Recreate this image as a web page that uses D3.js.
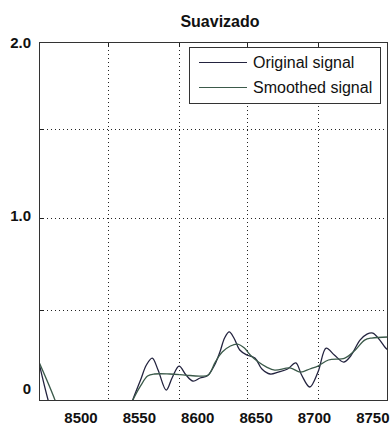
<!DOCTYPE html>
<html>
<head>
<meta charset="utf-8">
<script src="https://cdn.jsdelivr.net/npm/d3@7"></script>
<style>
  body { margin: 0; background: #fff; }
  text { font-family: "Liberation Sans Narrow", "Liberation Sans", Arial, sans-serif; }
</style>
</head>
<body>
<svg id="vis" width="390" height="427"></svg>
<script>
// Datos
const origX = [8464, 8472, 8482, 8512, 8533, 8544, 8551, 8556, 8561, 8566, 8573, 8578, 8584, 8590, 8596, 8602, 8608, 8614, 8619, 8623, 8627, 8631, 8636, 8642, 8649, 8655, 8662, 8669, 8677, 8684, 8689, 8696, 8703, 8710, 8717, 8725, 8731, 8739, 8745, 8750, 8756, 8761, 8763];
const origY = [0.145, -0.075, -0.30, -0.42, -0.30, -0.075, 0.046, 0.133, 0.173, 0.104, -0.012, 0.058, 0.127, 0.075, 0.040, 0.058, 0.069, 0.127, 0.208, 0.289, 0.324, 0.289, 0.220, 0.191, 0.173, 0.110, 0.081, 0.092, 0.110, 0.145, 0.075, 0.006, 0.092, 0.231, 0.191, 0.150, 0.185, 0.277, 0.312, 0.318, 0.277, 0.231, 0.220];
const smoothX = [8464, 8478, 8486, 8516, 8533, 8544, 8551, 8557, 8563, 8576, 8589, 8602, 8609, 8615, 8621, 8628, 8634, 8640, 8645, 8652, 8659, 8666, 8679, 8688, 8696, 8703, 8712, 8726, 8735, 8743, 8749, 8763];
const smoothY = [0.150, -0.075, -0.24, -0.36, -0.24, -0.075, 0.012, 0.069, 0.081, 0.081, 0.075, 0.069, 0.075, 0.150, 0.208, 0.243, 0.254, 0.231, 0.191, 0.150, 0.121, 0.104, 0.116, 0.092, 0.110, 0.127, 0.162, 0.173, 0.220, 0.277, 0.289, 0.295];
const xTicks = [8500, 8550, 8600, 8650, 8700, 8750];
const yTicks = [0, 1, 2];
const xGrid = [8523, 8584, 8642, 8703];
const yGrid = [0.45, 0.98, 1.5];
const seriesNames = ["Original signal", "Smoothed signal"];
const colors = ["#23233f", "#3b5a4a"];

const SVG = d3.select("#vis");
const pLeft = 39, pRight = 388, pTop = 42, pBottom = 401;

const x = d3.scaleLinear().domain([8464, 8763]).range([pLeft, pRight]);
const y = d3.scaleLinear().domain([-0.075, 2.0]).range([pBottom, pTop]);

// Titulo
SVG.append("text")
  .attr("x", 220).attr("y", 27)
  .attr("text-anchor", "middle")
  .attr("font-size", 16).attr("font-weight", "bold")
  .attr("fill", "#111")
  .text("Suavizado");

// Grilla punteada
SVG.selectAll("line.gx").data(xGrid).join("line")
  .attr("class", "gx")
  .attr("x1", d => Math.round(x(d)) + 0.5).attr("x2", d => Math.round(x(d)) + 0.5)
  .attr("y1", pTop).attr("y2", pBottom)
  .attr("stroke", "#222").attr("stroke-dasharray", "1,3");
SVG.selectAll("line.gy").data(yGrid).join("line")
  .attr("class", "gy")
  .attr("y1", d => Math.round(y(d)) + 0.5).attr("y2", d => Math.round(y(d)) + 0.5)
  .attr("x1", pLeft).attr("x2", pRight)
  .attr("stroke", "#222").attr("stroke-dasharray", "1,3");

// Marcas cortas en el marco
SVG.selectAll("line.tx").data(xGrid).join("line")
  .attr("class", "tx")
  .attr("x1", d => Math.round(x(d)) + 0.5).attr("x2", d => Math.round(x(d)) + 0.5)
  .attr("y1", pTop).attr("y2", pTop + 4)
  .attr("stroke", "#222");
SVG.selectAll("line.ty").data(yGrid).join("line")
  .attr("class", "ty")
  .attr("y1", d => Math.round(y(d)) + 0.5).attr("y2", d => Math.round(y(d)) + 0.5)
  .attr("x1", pLeft).attr("x2", pLeft + 4)
  .attr("stroke", "#222");

// Lineas
SVG.append("clipPath").attr("id", "clip")
  .append("rect").attr("x", pLeft).attr("y", pTop)
  .attr("width", pRight - pLeft).attr("height", pBottom - pTop);

const line = d3.line().x(d => x(d[0])).y(d => y(d[1])).curve(d3.curveCatmullRom.alpha(0.5));
const series = [d3.zip(origX, origY), d3.zip(smoothX, smoothY)];

SVG.append("g").attr("clip-path", "url(#clip)")
  .selectAll("path").data(series).join("path")
  .attr("d", line)
  .attr("fill", "none")
  .attr("stroke", (d, i) => colors[i])
  .attr("stroke-width", 1.3);

// Marco
SVG.append("rect")
  .attr("x", pLeft + 0.5).attr("y", pTop + 0.5)
  .attr("width", pRight - pLeft - 1).attr("height", pBottom - pTop - 1)
  .attr("fill", "none").attr("stroke", "#333");

// Etiquetas de los ejes
SVG.selectAll("text.xl").data(xTicks).join("text")
  .attr("class", "xl")
  .attr("x", d => x(d)).attr("y", 423)
  .attr("text-anchor", "middle")
  .attr("font-size", 15).attr("font-weight", "bold").attr("fill", "#111")
  .text(d => d);
SVG.selectAll("text.yl").data(yTicks).join("text")
  .attr("class", "yl")
  .attr("x", 31).attr("y", d => y(d) + 5.5)
  .attr("text-anchor", "end")
  .attr("font-size", 15).attr("font-weight", "bold").attr("fill", "#111")
  .text(d => d === 0 ? "0" : d3.format(".1f")(d));

// Leyenda
const leg = SVG.append("g");
leg.append("rect")
  .attr("x", 189.5).attr("y", 47.5).attr("width", 191).attr("height", 56)
  .attr("fill", "#fff").attr("stroke", "#333");
leg.selectAll("line").data(seriesNames).join("line")
  .attr("x1", 199).attr("x2", 247)
  .attr("y1", (d, i) => 62.5 + i * 25).attr("y2", (d, i) => 62.5 + i * 25)
  .attr("stroke", (d, i) => colors[i]).attr("stroke-width", 1.2);
leg.selectAll("text").data(seriesNames).join("text")
  .attr("x", 253).attr("y", (d, i) => 68 + i * 25)
  .attr("font-size", 16).attr("fill", "#111")
  .text(d => d);
</script>
</body>
</html>
